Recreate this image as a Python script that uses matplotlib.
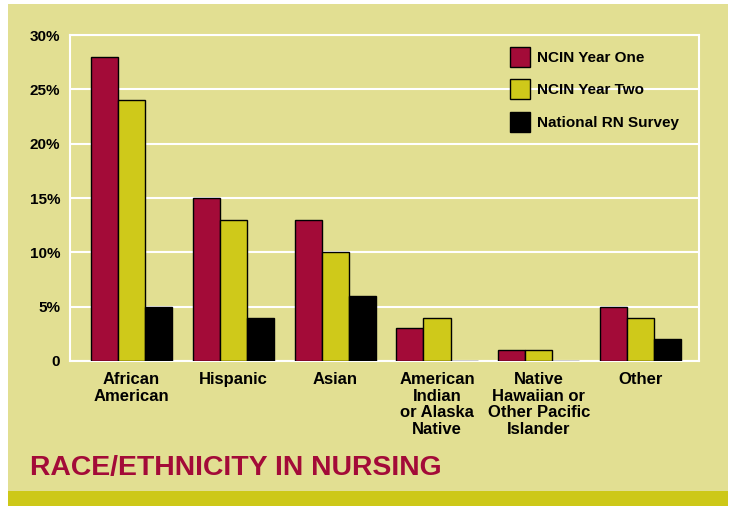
import matplotlib.pyplot as plt
import numpy as np
from matplotlib.patches import Rectangle

# data (percent)
categories = ["African\nAmerican", "Hispanic", "Asian",
              "American\nIndian\nor Alaska\nNative",
              "Native\nHawaiian or\nOther Pacific\nIslander", "Other"]
year_one = [28, 15, 13, 3, 1, 5]
year_two = [24, 13, 10, 4, 1, 4]
rn_survey = [5, 4, 6, 0, 0, 2]
series_names = ["NCIN Year One", "NCIN Year Two", "National RN Survey"]
yticks = [0, 5, 10, 15, 20, 25, 30]
ytick_labels = ["0", "5%", "10%", "15%", "20%", "25%", "30%"]

BG = "#e2df92"
CRIMSON = "#a30b38"
YELLOW = "#cfc91a"
STRIP = "#cdc818"
FONT = ["Liberation Sans", "DejaVu Sans"]

fig = plt.figure(figsize=(7.35, 5.08), dpi=100)
fig.patch.set_facecolor("white")

# khaki panel and the darker strip along the bottom
fig.add_artist(Rectangle((8 / 735, 2 / 508), 720 / 735, 502 / 508,
                         transform=fig.transFigure, facecolor=BG,
                         edgecolor="none", zorder=0))
fig.add_artist(Rectangle((8 / 735, 2 / 508), 720 / 735, 15 / 508,
                         transform=fig.transFigure, facecolor=STRIP,
                         edgecolor="none", zorder=0))

ax = fig.add_axes([70 / 735, 147 / 508, 629 / 735, 326 / 508])
ax.set_facecolor(BG)

x = np.arange(len(categories))
w = 0.265
colors = [CRIMSON, YELLOW, "black"]
for i, (vals, name) in enumerate(zip([year_one, year_two, rn_survey], series_names)):
    ax.bar(x + (i - 1) * w, vals, width=w, color=colors[i], edgecolor="black",
           linewidth=1.0, label=name, zorder=3)

ax.set_xlim(-0.6, 5.57)
ax.set_ylim(0, 30)
ax.set_yticks(yticks)
ax.set_yticklabels(ytick_labels, fontfamily=FONT, fontweight="bold", fontsize=11)
ax.yaxis.grid(True, color="white", linewidth=1.5, zorder=1)
ax.set_axisbelow(True)
for s in ax.spines.values():
    s.set_color("white")
    s.set_linewidth(1.5)
ax.tick_params(axis="both", length=0)
ax.tick_params(axis="y", pad=7)

ax.set_xticks(x)
ax.set_xticklabels(categories, fontfamily=FONT, fontweight="bold", fontsize=12,
                   linespacing=1.13, va="top")
ax.tick_params(axis="x", pad=8)

leg = ax.legend(loc="upper left", bbox_to_anchor=(0.6995, 0.963), frameon=False,
                prop={"family": FONT, "weight": "bold", "size": 11},
                handlelength=1.31, handleheight=1.63, labelspacing=0.81,
                handletextpad=0.45, borderpad=0, borderaxespad=0)

fig.text(30 / 735, 40 / 508, "RACE/ETHNICITY IN NURSING", color=CRIMSON,
         fontfamily=FONT, fontweight="bold",
         fontsize=20.4, va="center", ha="left")

fig.savefig("out.png", dpi=100, facecolor=fig.get_facecolor())
